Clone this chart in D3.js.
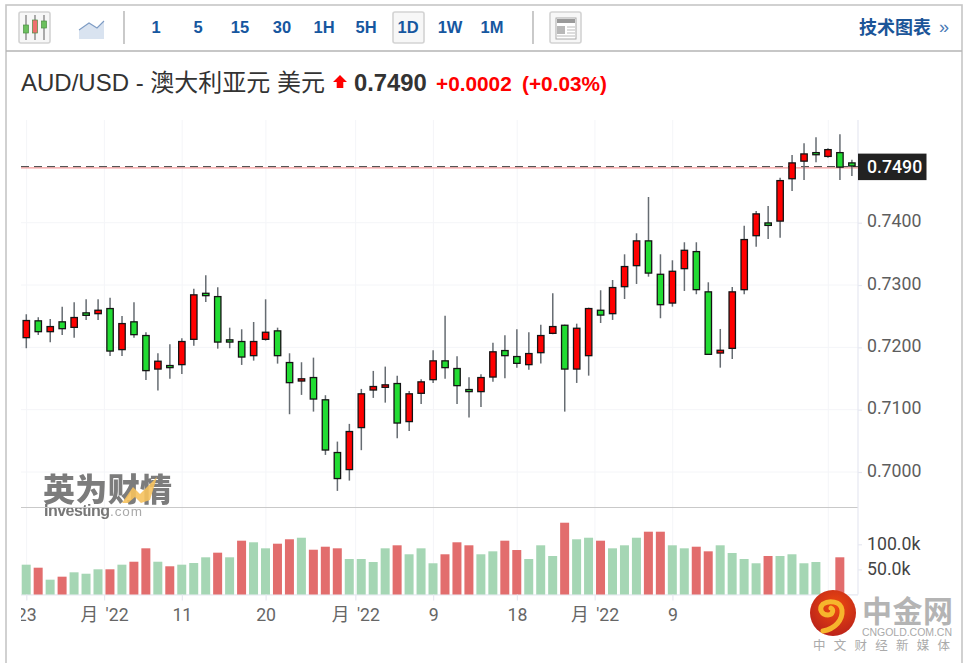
<!DOCTYPE html>
<html lang="zh">
<head>
<meta charset="utf-8">
<title>AUD/USD</title>
<script src="https://cdn.jsdelivr.net/npm/d3@7/dist/d3.min.js"></script>
<style>
  html, body { margin: 0; padding: 0; background: #fff; }
  svg { display: block; }
  text { font-family: Arial, "Liberation Sans", "Noto Sans CJK SC", sans-serif; }
</style>
</head>
<body>
<svg id="chart" width="967" height="663"></svg>
<script>
// Daily AUD/USD session prices
const open = [.72146,.72435,.72242,.72419,.72311,.72563,.72531,.72632,.71954,.72419,
  .72199,.71642,.71718,.71713,.72119,.72877,.72824,.72130,.72103,.71857,
  .72119,.72274,.71766,.71450,.71525,.71168,.70322,.70029,.70703,.71306,
  .71349,.71429,.70799,.71253,.71472,.71793,.71670,.71333,.71280,.71514,
  .71958,.71862,.71713,.71905,.72215,.72364,.71642,.71857,.72605,.72531,
  .72964,.73301,.73718,.73182,.72701,.73253,.73546,.72900,.71899,.71974,
  .72916,.73782,.74006,.74016,.74696,.74978,.75134,.75054,.75134,.74969];
const close = [.72440,.72242,.72343,.72290,.72488,.72504,.72605,.71931,.72391,.72194,
  .71617,.71787,.71665,.72103,.72852,.72820,.72075,.72075,.71835,.72103,
  .72252,.71857,.71424,.71505,.71161,.70343,.69885,.70659,.71264,.71381,
  .71408,.70776,.71264,.71456,.71793,.71665,.71376,.71280,.71525,.71938,
  .71857,.71734,.71910,.72199,.72343,.71642,.72316,.72632,.72508,.72969,
  .73306,.73718,.73182,.72675,.73230,.73567,.72916,.71878,.71963,.72900,
  .73739,.74151,.73947,.74685,.74969,.75113,.75081,.75182,.74882,.74900];
const high = [.72531,.72483,.72456,.72653,.72723,.72771,.72771,.72797,.72504,.72723,
  .72242,.71905,.72050,.72146,.72942,.73156,.72964,.72316,.72290,.72407,
  .72771,.72316,.71905,.71761,.71835,.71232,.70488,.70772,.71333,.71622,
  .71691,.71546,.71301,.71488,.71954,.72508,.71857,.71521,.71569,.72075,
  .72194,.72290,.72242,.72364,.72868,.72364,.72380,.72637,.72916,.73081,
  .73493,.73830,.74412,.73493,.73397,.73686,.73686,.73044,.72295,.72969,
  .73952,.74188,.74268,.74722,.75086,.75273,.75370,.75193,.75418,.75010];
const low = [.71986,.72199,.72082,.72199,.72156,.72440,.72440,.71862,.71862,.72156,
  .71477,.71306,.71498,.71573,.72027,.72728,.71979,.71986,.71718,.71787,
  .72108,.71739,.70927,.71237,.70969,.70274,.69697,.69862,.70350,.71189,
  .71113,.70542,.70659,.71092,.71429,.71498,.71092,.70873,.71044,.71450,
  .71505,.71674,.71642,.71739,.72210,.70969,.71429,.71546,.72391,.72440,
  .72776,.73017,.73134,.72467,.72653,.72905,.72852,.71878,.71674,.71814,
  .72852,.73615,.73739,.73759,.74508,.74685,.74969,.75042,.74685,.74749];

// Session volume, in contracts; null where no volume was reported
const volume = [59400,53400,29500,35500,44200,41400,50200,50200,59400,65300,
  92000,65300,56200,59400,62700,74100,83300,74100,107200,104000,
  92000,101200,110000,113100,89200,95200,92000,70700,70700,64700,
  92000,98000,80100,92000,62200,80100,104000,98000,80100,86000,
  107200,88600,70700,98000,76700,143000,110000,113100,107200,92000,
  98000,113100,125100,125100,98000,92000,95200,86000,98000,82700,
  70700,62200,76700,76700,80100,62200,64700,null,74100,null];
// 1 draws the volume bar in the falling colour, 0 in the rising colour
const volumeDown = [0,1,0,1,0,0,0,1,0,1, 1,0,1,0,0,0,1,0,1,0,
  0,1,1,0,1,1,1,0,0,0, 0,1,0,0,0,1,1,1,0,0,
  1,1,0,0,0,1,0,0,1,0, 0,0,1,1,0,0,1,1,0,0,
  0,0,1,0,0,0,0,0,1,0];

// Time axis: session index of each tick and its label
const timeTicks = [0,6.5,13,20,27.5,34,41,47.5,54,67];
const timeLabels = ["23","月 '22","11","20","月 '22","9","18","月 '22","9",""];
const priceTicks = [0.70,0.71,0.72,0.73,0.74];
const volumeTicks = [50000,100000];

const lastPrice = 0.7490;
const previousClose = 0.7488;
const intervals = ["1","5","15","30","1H","5H","1D","1W","1M"];

const svg = d3.select("#chart");
const x = d3.scaleLinear().domain([0,69]).range([26.3,851.9]);
const y = d3.scaleLinear().domain([0.70,0.74]).range([472,222.7]);
const yVol = d3.scaleLinear().domain([0,100000]).range([594.5,544.3]);

const plotLeft = 21, plotRight = 858, plotTop = 120, plotBottom = 594.5, panelSplit = 507.5;

const defs = svg.append("defs");
defs.append("clipPath").attr("id","plotClip").append("rect")
  .attr("x",plotLeft).attr("y",100).attr("width",plotRight+60-plotLeft).attr("height",540);
defs.append("filter").attr("id","soft").append("feGaussianBlur").attr("stdDeviation",0.6);
const ball = defs.append("radialGradient").attr("id","ball").attr("cx","55%").attr("cy","35%").attr("r","70%");
ball.append("stop").attr("offset","0%").attr("stop-color","#ee4a10");
ball.append("stop").attr("offset","100%").attr("stop-color","#b8201a");

// Widget frame and toolbar rule
svg.append("rect").attr("x",6).attr("y",5).attr("width",956).attr("height",670)
  .attr("fill","none").attr("stroke","#c6c6c6").attr("stroke-width",1.6);
svg.append("line").attr("x1",6).attr("x2",962).attr("y1",51).attr("y2",51)
  .attr("stroke","#b4b4b4").attr("stroke-width",1.6);

// Toolbar: candle-style button
function toolButton(bx, w){
  svg.append("rect").attr("x",bx).attr("y",12).attr("width",w).attr("height",31).attr("rx",2)
    .attr("fill","#f7f7f7").attr("stroke","#d3d3d3").attr("stroke-width",1.6);
}
toolButton(19,31);
[26,35,44].forEach(cx=>{
  svg.append("line").attr("x1",cx).attr("x2",cx).attr("y1",15).attr("y2",40).attr("stroke","#777").attr("stroke-width",1.2);
});
[[26,25,33,"#6cc05e"],[35,20,33,"#ef6f6f"],[44,21,28,"#6cc05e"]].forEach(c=>{
  svg.append("rect").attr("x",c[0]-2.5).attr("y",c[1]).attr("width",5).attr("height",c[2]-c[1])
    .attr("fill",c[3]).attr("stroke","#4c8f42").attr("stroke-width",0.7);
});
// Toolbar: area-style button
svg.append("path").attr("d","M79 30 L89 23 L97 28 L104 21 L104 39 L79 39 Z").attr("fill","#d9e3f0");
svg.append("path").attr("d","M79 30 L89 23 L97 28 L104 21").attr("fill","none").attr("stroke","#7e9cc4").attr("stroke-width",1.1);
svg.append("line").attr("x1",124).attr("x2",124).attr("y1",11).attr("y2",44).attr("stroke","#c4c4c4").attr("stroke-width",1.8);

// Toolbar: interval buttons
toolButton(393,31);
svg.append("g").selectAll("text").data(intervals).join("text")
  .attr("x",(d,i)=>156+i*42).attr("y",33).attr("text-anchor","middle")
  .attr("font-size",16.5).attr("font-weight",700).attr("fill","#16579f").text(d=>d);

svg.append("line").attr("x1",533).attr("x2",533).attr("y1",11).attr("y2",44).attr("stroke","#c4c4c4").attr("stroke-width",1.8);
toolButton(550,31);
svg.append("rect").attr("x",556).attr("y",18).attr("width",20).attr("height",21).attr("fill","#fff").attr("stroke","#aaa");
svg.append("rect").attr("x",557).attr("y",19).attr("width",18).attr("height",4).attr("fill","#9a9a9a");
svg.append("rect").attr("x",557).attr("y",26).attr("width",8).attr("height",8).attr("fill","#b8b8b8");
[27,30,33,36].forEach(ly=>svg.append("line").attr("x1",ly==36?557:567).attr("x2",575).attr("y1",ly).attr("y2",ly).attr("stroke","#bbb"));

svg.append("text").attr("x",859).attr("y",33.5).attr("font-size",18).attr("font-weight",700)
  .attr("fill","#1b5598").text("技术图表");
svg.append("text").attr("x",939).attr("y",33).attr("font-size",18).attr("fill","#4a7ab5").text("»");

// Instrument headline
svg.append("text").attr("x",21).attr("y",91).attr("font-size",24).attr("fill","#333").text("AUD/USD - 澳大利亚元 美元");
svg.append("path").attr("d","M340 75 L347 82 L343.3 82 L343.3 88 L336.7 88 L336.7 82 L333 82 Z").attr("fill","#ff0000");
svg.append("text").attr("x",354).attr("y",91).attr("font-size",23.8).attr("font-weight",700).attr("fill","#333").text(lastPrice.toFixed(4));
svg.append("text").attr("x",436).attr("y",90.5).attr("font-size",20.8).attr("font-weight",700).attr("fill","#ff0000").text("+0.0002");
svg.append("text").attr("x",522).attr("y",90.5).attr("font-size",20.8).attr("font-weight",700).attr("fill","#ff0000").text("(+0.03%)");

// Gridlines
const grid = svg.append("g").attr("stroke","#f4f5f8").attr("stroke-width",1);
grid.selectAll("line.v").data(timeTicks).join("line").attr("class","v")
  .attr("x1",d=>x(d)+0.3).attr("x2",d=>x(d)+0.3).attr("y1",plotTop).attr("y2",plotBottom);
grid.selectAll("line.h").data(priceTicks).join("line").attr("class","h")
  .attr("x1",plotLeft).attr("x2",plotRight).attr("y1",d=>y(d)).attr("y2",d=>y(d));

// Watermark
const mark = svg.append("g").attr("filter","url(#soft)");
mark.append("text").attr("x",43).attr("y",501).attr("font-size",32).attr("font-weight",900)
  .attr("fill","#7b7b7b").attr("textLength",129).style("font-family",'"Noto Sans CJK SC"').text("英为财情");
mark.append("path").attr("d","M122 503 L133 487 L140 494 L157 477 L150 500 L141 503 L135 497 L128 503 Z").attr("fill","#f6c25e").attr("opacity",0.9);
mark.append("text").attr("x",44).attr("y",516).attr("font-size",16).attr("font-weight",700)
  .attr("fill","#777").attr("textLength",66).text("Investing");
mark.append("text").attr("x",110).attr("y",516).attr("font-size",13.5)
  .attr("fill","#aaa").attr("textLength",32).text(".com");

// Panel rules
svg.append("line").attr("x1",plotLeft).attr("x2",plotRight).attr("y1",panelSplit).attr("y2",panelSplit)
  .attr("stroke","#c9c9c9").attr("stroke-width",1.2);
svg.append("line").attr("x1",plotLeft).attr("x2",plotRight).attr("y1",plotBottom+0.3).attr("y2",plotBottom+0.3)
  .attr("stroke","#e6e8f1").attr("stroke-width",1.2);
svg.append("line").attr("x1",plotRight).attr("x2",plotRight).attr("y1",plotTop).attr("y2",plotBottom)
  .attr("stroke","#e6e8f1").attr("stroke-width",1.2);

// Volume bars
svg.append("g").attr("clip-path","url(#plotClip)").selectAll("rect")
  .data(volume.map((v,i)=>({v,i})).filter(d=>d.v!==null)).join("rect")
  .attr("x",d=>x(d.i)-4.6).attr("width",9)
  .attr("y",d=>yVol(d.v)).attr("height",d=>yVol(0)-yVol(d.v))
  .attr("fill",d=>volumeDown[d.i]?"#e26d6d":"#a5d6b4");

// Reference lines for previous close and last price
svg.append("line").attr("x1",plotLeft).attr("x2",plotRight).attr("y1",y(previousClose)).attr("y2",y(previousClose))
  .attr("stroke","#f59a9a").attr("stroke-width",1.1);
svg.append("line").attr("x1",plotLeft).attr("x2",plotRight).attr("y1",y(lastPrice)).attr("y2",y(lastPrice))
  .attr("stroke","#444").attr("stroke-width",1).attr("stroke-dasharray","8 5");

// Candles
const candles = svg.append("g").selectAll("g").data(open.map((o,i)=>i)).join("g");
candles.append("line").attr("x1",d=>x(d)).attr("x2",d=>x(d))
  .attr("y1",d=>y(high[d])).attr("y2",d=>y(low[d]))
  .attr("stroke","#666c72").attr("stroke-width",1.5);
candles.append("rect").attr("x",d=>x(d)-3.2).attr("width",6.4)
  .attr("y",d=>y(Math.max(open[d],close[d]))+0.6)
  .attr("height",d=>Math.max(0.8,Math.abs(y(open[d])-y(close[d]))-1.2))
  .attr("fill",d=>close[d]>=open[d]?"#ff0000":"#22dc33")
  .attr("stroke","#141414").attr("stroke-width",1.3);

// Axes
const axisFont = 'Roboto, "Noto Sans CJK SC", sans-serif';
function styleAxis(g, color){
  g.select(".domain").remove();
  g.selectAll(".tick line").attr("stroke","#e6e8f1").attr("stroke-width",1.2);
  g.selectAll(".tick text").attr("fill",color).attr("font-size",17.7).style("font-family",axisFont);
}
svg.append("g").attr("transform",`translate(${plotRight},0)`)
  .call(d3.axisRight(y).tickValues(priceTicks).tickFormat(d3.format(".4f")).tickSize(4).tickPadding(5))
  .call(styleAxis,"#5d5d5d")
  .call(g=>g.selectAll(".tick text").attr("dy","0.24em"));
svg.append("g").attr("transform",`translate(${plotRight},0)`)
  .call(d3.axisRight(yVol).tickValues(volumeTicks).tickFormat(d=>(d/1000).toFixed(1)+"k").tickSize(4).tickPadding(5))
  .call(styleAxis,"#444")
  .call(g=>g.selectAll(".tick text").attr("dy","0.27em"));
svg.append("g").attr("clip-path","url(#plotClip)").append("g").attr("transform",`translate(0,${plotBottom})`)
  .call(d3.axisBottom(x).tickValues(timeTicks).tickFormat((d,i)=>timeLabels[i]).tickSize(6).tickPadding(8))
  .call(styleAxis,"#666")
  .call(g=>g.selectAll(".tick text").attr("xml:space","preserve").attr("word-spacing","3px"));

// Last-price tag
const tag = svg.append("g");
tag.append("rect").attr("x",858).attr("y",y(lastPrice)-13).attr("width",68.5).attr("height",26.5).attr("fill","#222");
tag.append("text").attr("x",867).attr("y",y(lastPrice)+6.3).attr("font-size",17.7).attr("font-weight",500)
  .attr("fill","#fff").style("font-family",axisFont).text(lastPrice.toFixed(4));

// Publisher logo
const logo = svg.append("g");
logo.append("circle").attr("cx",833).attr("cy",613).attr("r",23).attr("fill","url(#ball)");
logo.append("path").attr("d","M823 631 C835 629 843 620 842 610 C841 601 829 600 823 604 C818 609 822 615 828 615 C833 615 834 609 831 608")
  .attr("fill","none").attr("stroke","#f6b52c").attr("stroke-width",5).attr("stroke-linecap","round");
logo.append("text").attr("x",862).attr("y",622).attr("font-size",30).attr("font-weight",700)
  .attr("fill","#b4b4b4").attr("textLength",91).style("font-family",'"Noto Sans CJK SC"').text("中金网");
logo.append("text").attr("x",862).attr("y",635.5).attr("font-size",10.5).attr("fill","#aaa")
  .attr("textLength",90).text("CNGOLD.COM.CN");
svg.append("text").attr("x",813).attr("y",650).attr("font-size",12.5).attr("fill","#aaa")
  .attr("textLength",137).style("font-family",'"Noto Sans CJK SC"').text("中文财经新媒体");
</script>
</body>
</html>
